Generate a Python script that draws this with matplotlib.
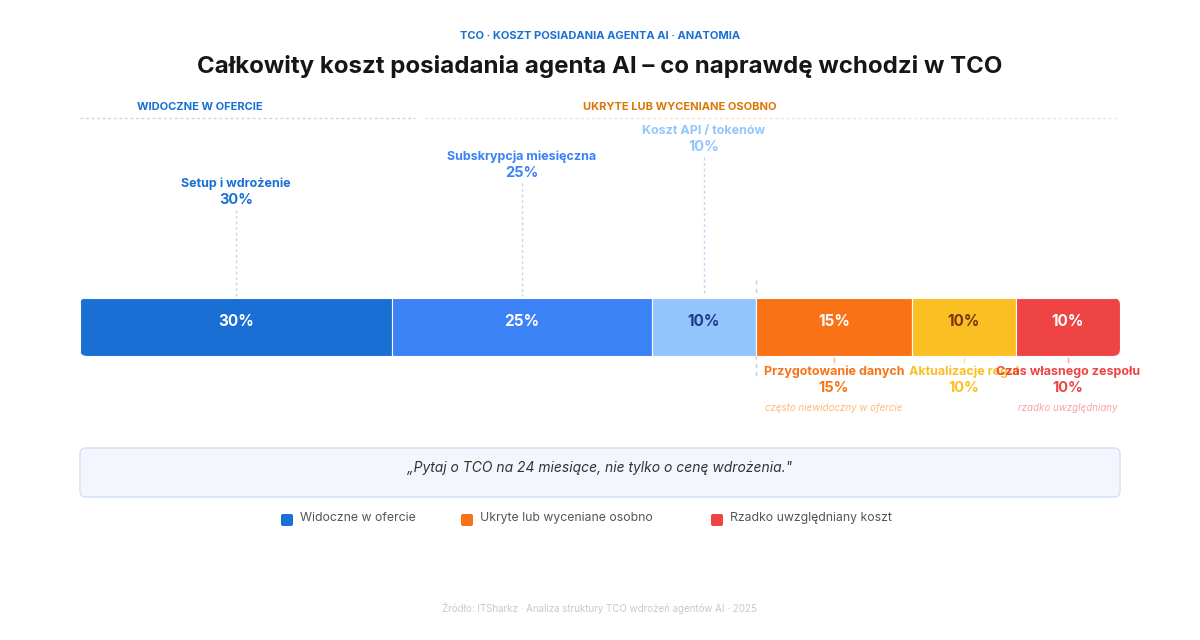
import matplotlib.pyplot as plt
from matplotlib.patches import FancyBboxPatch
from matplotlib.transforms import blended_transform_factory

plt.rcParams['font.family'] = ['Inter', 'DejaVu Sans']

# data
segments = ['Setup i wdrożenie', 'Subskrypcja miesięczna', 'Koszt API / tokenów',
            'Przygotowanie danych', 'Aktualizacje reguł', 'Czas własnego zespołu']
shares = [30, 25, 10, 15, 10, 10]
seg_colors = ['#1a6fd4', '#3b82f6', '#93c5fd', '#f97316', '#fbbf24', '#ef4444']
inner_text = ['white', 'white', '#1e3a8a', 'white', '#78350f', 'white']
label_colors = ['#1a6fd4', '#3b82f6', '#93c5fd', '#f97316', '#fbbf24', '#ef4444']
notes = ['', '', '', 'często niewidoczny w ofercie', '', 'rzadko uwzględniany']
note_colors = ['', '', '', '#fdba74', '', '#f8a5a5']
legend_labels = ['Widoczne w ofercie', 'Ukryte lub wyceniane osobno', 'Rzadko uwzględniany koszt']
legend_colors = ['#1a6fd4', '#f97316', '#ef4444']

fig = plt.figure(figsize=(12, 6.4), dpi=100)
ax = fig.add_axes([0, 0, 1, 1])
ax.set_xlim(0, 1200)
ax.set_ylim(640, 0)
ax.axis('off')

bx = fig.add_axes([80 / 1200, (640 - 356) / 640, 1040 / 1200, 58 / 640])
bx.set_xlim(0, 100)
bx.set_ylim(-0.5, 0.5)
bx.axis('off')

lefts = [sum(shares[:i]) for i in range(len(shares))]
bars = bx.barh(0, shares, left=lefts, height=1.0, color=seg_colors,
               edgecolor='white', linewidth=0.8)
clip = FancyBboxPatch((0, -0.5), 100, 1.0, boxstyle='round,pad=0,rounding_size=0.7',
                      mutation_aspect=1 / 6.2, transform=bx.transData,
                      facecolor='none', edgecolor='none')
bx.add_patch(clip)
for b in bars:
    b.set_clip_path(clip)
for l, s, c in zip(lefts, shares, inner_text):
    bx.text(l + s / 2, 0.1, f'{s}%', ha='center', va='center', color=c,
            fontsize=11, fontweight='bold')

tr = blended_transform_factory(bx.transData, ax.transData)

# header
ax.text(600, 36, 'TCO · KOSZT POSIADANIA AGENTA AI · ANATOMIA', ha='center', va='center',
        color='#1a6fd4', fontsize=8, fontweight='bold')
ax.text(600, 66, 'Całkowity koszt posiadania agenta AI – co naprawdę wchodzi w TCO',
        ha='center', va='center', color='#161616', fontsize=17.3, fontweight='bold')

# section headers
ax.text(200, 107, 'WIDOCZNE W OFERCIE', ha='center', va='center', color='#1a6fd4',
        fontsize=8, fontweight='bold')
ax.plot([80, 415], [118, 118], ls=(0, (2, 2)), color='#bfd6f5', lw=1)
ax.text(680, 107, 'UKRYTE LUB WYCENIANE OSOBNO', ha='center', va='center', color='#d97706',
        fontsize=8, fontweight='bold')
ax.plot([425, 1120], [118, 118], ls=(0, (2, 2)), color='#fde0c4', lw=1)

# separator between visible and hidden
sep = lefts[3]
ax.plot([sep, sep], [280, 378], transform=tr, ls=(0, (3, 3)), color='#c8ccd4', lw=1)

# labels above (visible costs)
top_y = [184, 157, 131]
for i in range(3):
    xm = lefts[i] + shares[i] / 2
    ax.text(xm, top_y[i], segments[i], transform=tr, ha='center', va='center',
            color=label_colors[i], fontsize=9, fontweight='bold')
    ax.text(xm, top_y[i] + 16, f'{shares[i]}%', transform=tr, ha='center', va='center',
            color=label_colors[i], fontsize=10.5, fontweight='bold')
    ax.plot([xm, xm], [top_y[i] + 26, 296], transform=tr, ls=(0, (2, 2)),
            color='#bfd6f5', lw=1)

# labels below (hidden costs)
for i in range(3, 6):
    xm = lefts[i] + shares[i] / 2
    ax.plot([xm, xm], [358, 362], transform=tr, color=note_colors[i] or '#fde68a', lw=1)
    ax.text(xm, 372, segments[i], transform=tr, ha='center', va='center',
            color=label_colors[i], fontsize=9, fontweight='bold')
    ax.text(xm, 388, f'{shares[i]}%', transform=tr, ha='center', va='center',
            color=label_colors[i], fontsize=10.5, fontweight='bold')
    if notes[i]:
        ax.text(xm, 408, notes[i], transform=tr, ha='center', va='center',
                color=note_colors[i], fontsize=7, style='italic')

# quote box
box = FancyBboxPatch((80, 448), 1040, 49, boxstyle='round,pad=0,rounding_size=6',
                     facecolor='#f3f7fd', edgecolor='#d6e4f7', lw=1.2)
ax.add_patch(box)
ax.text(600, 468, '„Pytaj o TCO na 24 miesiące, nie tylko o cenę wdrożenia."', ha='center',
        va='center', color='#333333', fontsize=10, style='italic')

# legend
leg_x = [287, 467, 717]
for x, lab, c in zip(leg_x, legend_labels, legend_colors):
    ax.add_patch(FancyBboxPatch((x - 6, 514), 12, 12, boxstyle='round,pad=0,rounding_size=2',
                                facecolor=c, edgecolor='none'))
    ax.text(x + 13, 518, lab, ha='left', va='center', color='#555555', fontsize=8.8)

ax.text(600, 608, 'Źródło: ITSharkz · Analiza struktury TCO wdrożeń agentów AI · 2025',
        ha='center', va='center', color='#c8c8c8', fontsize=7)

fig.savefig('out.png', dpi=100, facecolor='white')
